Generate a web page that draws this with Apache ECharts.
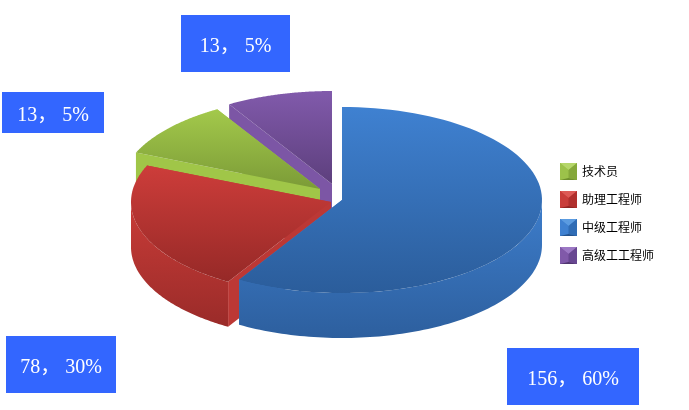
<!DOCTYPE html>
<html><head><meta charset="utf-8">
<style>html,body{margin:0;padding:0;background:#fff}#c{width:689px;height:410px}</style>
<script src="https://cdn.jsdelivr.net/npm/echarts@6/dist/echarts.min.js"></script>
</head><body><div id="c"></div>
<script>
// Data: legend order
const categories = ['技术员', '助理工程师', '中级工程师', '高级工工程师'];
const counts = [13, 78, 156, 13];
const percents = [5, 30, 60, 5];
// Wedge sizes as they appear in the picture (%), which differ from the printed labels
const drawnShares = [10, 22.8, 58.6, 8.6];

// Style and layout
const clockwiseOrder = [2, 1, 0, 3];
const sliceCenters = [[320, 189], [331, 202], [342, 200], [332, 184]];
const radiusX = 200, radiusY = 93, depth = 45;
const topColors = [['#a3c94b', '#7b9b37'], ['#cd3d3a', '#962927'], ['#3f81d1', '#2b5d9b'], ['#815aab', '#5d3f7d']];
const wallColors = [['#a0c648', '#93b640'], ['#c93c38', '#9a2b29'], ['#3d7dcb', '#2d5f9e'], ['#8059a9', '#6f4c96']];
const radialWallColors = ['#a0c648', '#bc3835', '#3d7dcb', '#7c56a5'];
const bevel = [['#b5d66a', '#9cc24a', '#85a83a', '#6f8f2e'], ['#dd5a56', '#c93d3a', '#b02f2d', '#8f2523'],
               ['#5b9be0', '#3f81d1', '#2f6cb5', '#24538d'], ['#9c78c4', '#8059a9', '#684791', '#503670']];
const labelBoxes = [[507, 348, 132, 57, 2], [6, 336, 110, 57, 1], [2, 92, 102, 41, 0], [181, 15, 109, 57, 3]];
const labelTextShift = 3.5;
const boxColor = '#3366ff';

const startAngles = {};
let running = 0;
clockwiseOrder.forEach(i => { startAngles[i] = running; running += drawnShares[i] * 3.6; });

const grad = c => new echarts.graphic.LinearGradient(0, 0, 0, 1, [{ offset: 0, color: c[0] }, { offset: 1, color: c[1] }]);

function rim(i, deg) {
  const a = deg * Math.PI / 180, c = sliceCenters[i];
  return [c[0] + radiusX * Math.sin(a), c[1] - radiusY * Math.cos(a)];
}
function renderSlice(i) {
  return function (params, api) {
    const a0 = startAngles[i], a1 = a0 + api.value(0) * 3.6;
    const c = sliceCenters[i], steps = 90, top = [c];
    for (let s = 0; s <= steps; s++) top.push(rim(i, a0 + (a1 - a0) * s / steps));
    const children = [];
    const down = p => [p[0], p[1] + depth];
    [a0, a1].forEach(a => {
      const p = rim(i, a);
      children.push({ type: 'polygon', shape: { points: [c, p, down(p), down(c)] }, style: { fill: radialWallColors[i] } });
    });
    const w0 = Math.max(a0, 90), w1 = Math.min(a1, 270);
    if (w1 > w0) {
      const upper = [], lower = [];
      for (let s = 0; s <= steps; s++) {
        const p = rim(i, w0 + (w1 - w0) * s / steps);
        upper.push(p); lower.unshift(down(p));
      }
      children.push({ type: 'polygon', shape: { points: upper.concat(lower) }, style: { fill: grad(wallColors[i]) } });
    }
    children.push({ type: 'polygon', shape: { points: top }, style: { fill: grad(topColors[i]) } });
    return { type: 'group', children };
  };
}
function icon(i) {
  const b = bevel[i];
  const svg = `<svg xmlns="http://www.w3.org/2000/svg" width="17" height="17">` +
    `<rect width="17" height="17" fill="${b[1]}"/>` +
    `<polygon points="0,0 17,0 8.5,7" fill="${b[0]}"/>` +
    `<polygon points="0,0 8.5,7 8.5,15 0,17" fill="${b[1]}"/>` +
    `<polygon points="17,0 8.5,7 8.5,15 17,17" fill="${b[2]}"/>` +
    `<polygon points="0,17 8.5,15 17,17" fill="${b[3]}"/></svg>`;
  return 'image://data:image/svg+xml;charset=utf-8,' + encodeURIComponent(svg);
}

const drawOrder = [3, 0, 1, 2];
const chart = echarts.init(document.getElementById('c'), null, { renderer: 'canvas' });
chart.setOption({
  animation: false,
  backgroundColor: '#fff',
  legend: {
    orient: 'vertical', left: 555, top: 158, itemWidth: 17, itemHeight: 17, itemGap: 11,
    selectedMode: false,
    textStyle: { fontFamily: '"Noto Sans CJK SC"', fontSize: 12, color: '#000' },
    data: categories.map((name, i) => ({ name, icon: icon(i) }))
  },
  series: drawOrder.map(i => ({
    type: 'custom', name: categories[i], coordinateSystem: 'none', silent: true,
    itemStyle: { color: topColors[i][0] },
    z: 2, data: [[drawnShares[i]]], renderItem: renderSlice(i)
  })),
  graphic: labelBoxes.flatMap(([x, y, w, h, i]) => [
    { type: 'rect', z: 10, shape: { x, y, width: w, height: h }, style: { fill: boxColor } },
    { type: 'text', z: 11, x: x + w / 2, y: y + h / 2 + labelTextShift,
      style: { text: `${counts[i]}， ${percents[i]}%`, fill: '#fff', align: 'center', verticalAlign: 'middle',
               font: '20px "Liberation Serif", "Noto Sans CJK SC"' } }
  ])
});
</script></body></html>
